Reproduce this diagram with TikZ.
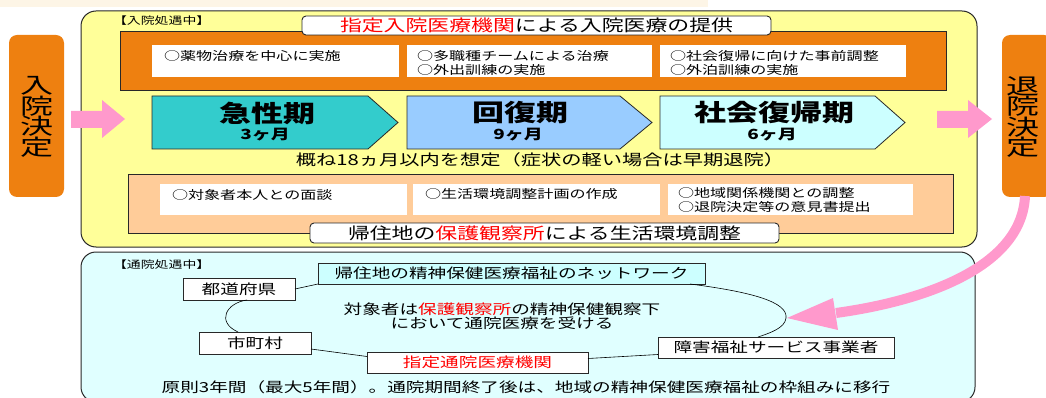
\documentclass[tikz,border=0pt]{standalone}
\usepackage{fontspec}
\setmainfont{Noto Sans CJK JP}[FakeStretch=1.35]
\newfontfamily\widejp{Noto Sans CJK JP}[FakeStretch=1.5]
\usetikzlibrary{calc}
\definecolor{cream}{RGB}{253,245,230}
\definecolor{yel}{RGB}{255,255,153}
\definecolor{orng}{RGB}{238,128,16}
\definecolor{peach}{RGB}{255,204,153}
\definecolor{tealc}{RGB}{51,204,204}
\definecolor{lblue}{RGB}{153,204,255}
\definecolor{lcyan}{RGB}{204,255,255}
\definecolor{pale}{RGB}{224,255,255}
\definecolor{pinkc}{RGB}{255,153,204}
\definecolor{edge}{RGB}{40,40,40}
\definecolor{redc}{RGB}{255,0,0}
\newcommand\fs[2]{\fontsize{#1}{#2}\selectfont}
\begin{document}
\begin{tikzpicture}[x=1pt,y=-1pt,
  every node/.style={inner sep=0pt, outer sep=0pt},
  panel/.style={draw=edge, line width=1pt, rounded corners=15pt, anchor=north west},
  band/.style={draw=edge, line width=0.9pt, anchor=north west},
  wbox/.style={fill=white, anchor=north west},
  bbox/.style={draw=edge, fill=white, line width=0.8pt, anchor=north west, font=\fs{13.8}{16}},
  titlebox/.style={draw=edge, fill=white, rounded corners=4pt, line width=0.9pt, anchor=north west, font=\fs{16.2}{18}},
  decision/.style={fill=orng, rounded corners=8pt, anchor=north west},
  phase/.style={draw=edge, line width=0.8pt},
  ptitle/.style={font=\fs{23.7}{26}\bfseries},
  pmonth/.style={font=\fs{14}{16}\bfseries},
  itemtxt/.style={anchor=north west, align=left, font=\fs{11.9}{14}},
  label/.style={anchor=west, font=\fs{10.3}{12}},
  vtext/.style={align=center, font=\widejp\fs{22}{20.5}},
  thin/.style={draw=black, line width=0.6pt},
]
\path[use as bounding box, clip] (0,0) rectangle (1046,398);
\fill[cream] (0,0) rectangle (708,7);

% ---------- upper panel ----------
\node[panel, fill=yel, minimum width=896, minimum height=236] (inpanel) at (81,11) {};
\node[label] (inlabel) at (113,21) {【入院処遇中】};

\node[band, fill=orng, minimum width=826, minimum height=59] (oband) at (120,31) {};
\node[titlebox, minimum width=469, minimum height=19] (intitle) at (302,16)
  {\textcolor{redc}{指定入院医療機関}による入院医療の提供};

\node[wbox, minimum width=247, minimum height=32] (w1) at (152,45) {};
\node[wbox, minimum width=245, minimum height=32] (w2) at (407,45) {};
\node[wbox, minimum width=246, minimum height=32] (w3) at (660,45) {};
\node[itemtxt] (w1t) at ($(w1.north west)+(12,5)$) {○薬物治療を中心に実施};
\node[itemtxt] (w2t) at ($(w2.north west)+(10,5)$) {○多職種チームによる治療\\○外出訓練の実施};
\node[itemtxt] (w3t) at ($(w3.north west)+(10,5)$) {○社会復帰に向けた事前調整\\○外泊訓練の実施};

% phases
\draw[phase, fill=tealc] (152,96) -- (368,96) -- (398,122.5) -- (368,149) -- (152,149) -- cycle;
\draw[phase, fill=lblue] (407,96) -- (620,96) -- (652,122.5) -- (620,149) -- (407,149) -- cycle;
\draw[phase, fill=lcyan] (660,96) -- (875,96) -- (905,122.5) -- (875,149) -- (660,149) -- cycle;
\node[ptitle] (p1) at (267,113) {急性期};
\node[pmonth] (p1m) at (265,135) {3ヶ月};
\node[ptitle] (p2) at (520,113) {回復期};
\node[pmonth] (p2m) at (518,135) {9ヶ月};
\node[ptitle] (p3) at (774,113) {社会復帰期};
\node[pmonth] (p3m) at (772,135) {6ヶ月};

\node[font=\fs{15}{17}] (span) at (540,160) {概ね18ヵ月以内を想定（症状の軽い場合は早期退院）};

\node[band, fill=peach, minimum width=825, minimum height=59] (pband) at (128,174) {};
\node[wbox, minimum width=247, minimum height=31] (q1) at (160,184) {};
\node[wbox, minimum width=247, minimum height=31] (q2) at (413,184) {};
\node[wbox, minimum width=245, minimum height=31] (q3) at (668,184) {};
\node[itemtxt] (q1t) at ($(q1.north west)+(12,5)$) {○対象者本人との面談};
\node[itemtxt] (q2t) at ($(q2.north west)+(12,5)$) {○生活環境調整計画の作成};
\node[itemtxt] (q3t) at ($(q3.north west)+(10,4)$) {○地域関係機関との調整\\○退院決定等の意見書提出};

\node[titlebox, minimum width=469, minimum height=20] (outtitle) at (310,223)
  {帰住地の\textcolor{redc}{保護観察所}による生活環境調整};

% ---------- decisions and arrows ----------
\node[decision, minimum width=55, minimum height=162] (nyuin) at (9,35) {};
\node[vtext] (nyuint) at (36.5,117) {入\\院\\決\\定};
\node[decision, minimum width=50, minimum height=162] (taiin) at (1002,35) {};
\node[vtext] (taiint) at (1023,117) {退\\院\\決\\定};

\fill[pinkc] (71,111) -- (102,111) -- (102,100) -- (125,119) -- (102,138) -- (102,128) -- (71,128) -- cycle;
\fill[pinkc] (937,111) -- (968,111) -- (968,100) -- (992,119) -- (968,138) -- (968,128) -- (937,128) -- cycle;

% ---------- lower panel ----------
\node[panel, fill=pale, minimum width=894, minimum height=150] (outpanel) at (81,252) {};
\node[label] (outlabel) at (113,265) {【通院処遇中】};

\node[bbox, fill=lcyan, minimum width=387, minimum height=21] (net) at (318,263) {帰住地の精神保健医療福祉のネットワーク};
\node[bbox, minimum width=112, minimum height=22] (todo) at (183,278) {都道府県};
\node[bbox, minimum width=112, minimum height=22] (shichou) at (199,332) {市町村};
\node[bbox, minimum width=221, minimum height=21] (shitei) at (367,352) {\textcolor{redc}{指定通院医療機関}};
\node[bbox, minimum width=236, minimum height=21] (shogai) at (658,337) {障害福祉サービス事業者};

\draw[thin] (todo.east) -- (net.south west);
\draw[thin] ($(net.south east)+(-15,0)$) .. controls (752,292) and (788,302) .. (786,318)
  .. controls (785,328) and (770,333) .. ($(shogai.north)+(-18,0)$);
\draw[thin] ($(shogai.west)+(0,7)$) -- ($(shitei.east)+(0,-4)$);
\draw[thin] ($(shitei.west)+(0,-6)$) -- ($(shichou.east)+(0,6)$);
\draw[thin] ($(todo.south)+(8,0)$) .. controls (226,303) and (216,322) .. ($(shichou.north)+(-17,0)$);

\node[align=center, font=\fs{13.8}{13.8}] (center) at (502,316.5)
  {対象者は\textcolor{redc}{保護観察所}の精神保健観察下\\において通院医療を受ける};

\node[font=\fs{13.8}{16}] (bottom) at (526,387)
  {原則3年間（最大5年間）。通院期間終了後は、地域の精神保健医療福祉の枠組みに移行};

% curved arrow
\coordinate (headbase) at (836,313);
\draw[pinkc, line width=10pt] ($(taiin.south)+(-2,-1)$) .. controls (1022,265) and (930,300) .. (headbase);
\fill[pinkc] (833,298) -- (838,330) -- (787,318) -- cycle;
\end{tikzpicture}
\end{document}
